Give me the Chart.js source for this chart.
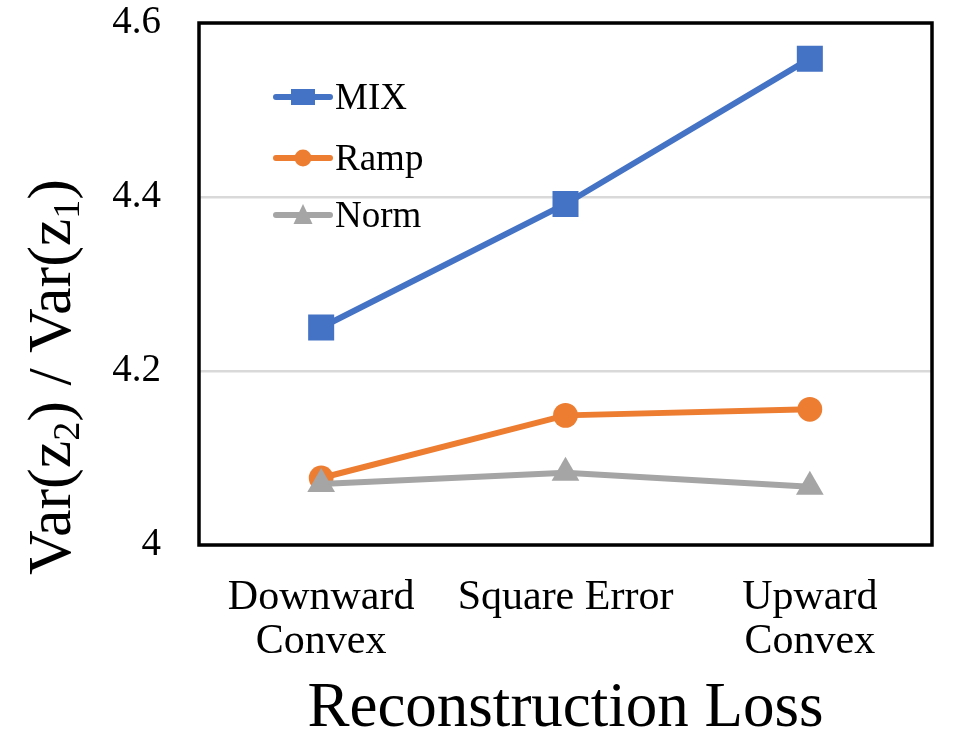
<!DOCTYPE html>
<html>
<head>
<meta charset="utf-8">
<script src="https://cdn.jsdelivr.net/npm/chart.js@4.4.1/dist/chart.umd.min.js"></script>
<style>
  html, body { margin: 0; padding: 0; background: #fff; }
  #chart { display: block; }
</style>
</head>
<body>
<canvas id="chart" width="962" height="747"></canvas>
<script>
// Data
const categories = [['Downward', 'Convex'], 'Square Error', ['Upward', 'Convex']];
const mixValues = [4.25, 4.392, 4.559];
const rampValues = [4.077, 4.149, 4.156];
const normValues = [4.070, 4.083, 4.067];
const yTicks = [4, 4.2, 4.4, 4.6];

const SERIF = '"Liberation Serif", "Times New Roman", serif';
const BLUE = '#4472C4';
const ORANGE = '#ED7D31';
const GRAY = '#A5A5A5';

// Black frame round the plot area
const frame = {
  id: 'frame',
  beforeDatasetsDraw(chart) {
    const { ctx, chartArea: a } = chart;
    ctx.save();
    ctx.strokeStyle = '#000';
    ctx.lineWidth = 3.5;
    ctx.strokeRect(a.left, a.top, a.right - a.left, a.bottom - a.top);
    ctx.restore();
  }
};

// Legend inside the plot, top left
const insideLegend = {
  id: 'insideLegend',
  afterDraw(chart) {
    const { ctx, chartArea: a } = chart;
    const rows = [74, 135, 192];
    ctx.save();
    chart.data.datasets.forEach((ds, i) => {
      const y = a.top + rows[i];
      const x0 = a.left + 77, x1 = a.left + 131, xm = (x0 + x1) / 2;
      ctx.strokeStyle = ds.borderColor;
      ctx.lineWidth = 6;
      ctx.lineCap = 'round';
      ctx.beginPath();
      ctx.moveTo(x0, y);
      ctx.lineTo(x1, y);
      ctx.stroke();
      ctx.fillStyle = ds.borderColor;
      ctx.beginPath();
      if (ds.pointStyle === 'rect') {
        ctx.rect(xm - 12, y - 8, 24, 16);
      } else if (ds.pointStyle === 'circle') {
        ctx.arc(xm, y, 8.5, 0, Math.PI * 2);
      } else {
        ctx.moveTo(xm, y - 11);
        ctx.lineTo(xm - 9.5, y + 9);
        ctx.lineTo(xm + 9.5, y + 9);
        ctx.closePath();
      }
      ctx.fill();
      ctx.fillStyle = '#000';
      ctx.font = '37px ' + SERIF;
      ctx.textBaseline = 'alphabetic';
      ctx.textAlign = 'left';
      ctx.fillText(ds.label, x1 + 5, y + 11.5);
    });
    ctx.restore();
  }
};

// Y axis title with real subscripts: Var(z2) / Var(z1)
const yTitle = {
  id: 'yTitle',
  afterDraw(chart) {
    const { ctx } = chart;
    const size = 62, sub = 38;
    const parts = [
      ['Var(z', size, 0], ['2', sub, 9], [') / Var(z', size, 0], ['1', sub, 9], [')', size, 0]
    ];
    ctx.save();
    let total = 0;
    parts.forEach(p => { ctx.font = p[1] + 'px ' + SERIF; total += ctx.measureText(p[0]).width; });
    ctx.translate(70, 377);
    ctx.rotate(-Math.PI / 2);
    ctx.fillStyle = '#000';
    ctx.textBaseline = 'alphabetic';
    ctx.textAlign = 'left';
    let x = -total / 2;
    parts.forEach(p => {
      ctx.font = p[1] + 'px ' + SERIF;
      ctx.fillText(p[0], x, p[2]);
      x += ctx.measureText(p[0]).width;
    });
    ctx.restore();
  }
};

function makeSet(label, values, color, style, radius, order) {
  return {
    label: label,
    data: values,
    order: order,
    borderColor: color,
    backgroundColor: color,
    borderWidth: 6,
    pointStyle: style,
    pointRadius: radius,
    pointHoverRadius: radius,
    pointBorderWidth: 0,
    pointBackgroundColor: color,
    tension: 0,
    fill: false
  };
}

new Chart(document.getElementById('chart'), {
  type: 'line',
  data: {
    labels: categories,
    datasets: [
      makeSet('MIX', mixValues, BLUE, 'rect', 18.4, 2),
      makeSet('Ramp', rampValues, ORANGE, 'circle', 12.4, 1),
      makeSet('Norm', normValues, GRAY, 'triangle', 16, 0)
    ]
  },
  options: {
    responsive: false,
    animation: false,
    layout: { padding: { left: 0, top: 23, right: 30, bottom: 0 } },
    plugins: {
      legend: { display: false },
      tooltip: { enabled: false }
    },
    scales: {
      x: {
        offset: true,
        grid: { display: false, drawTicks: false },
        border: { display: false },
        ticks: {
          color: '#000',
          padding: 30,
          maxRotation: 0,
          autoSkip: false,
          font: { family: SERIF, size: 42, lineHeight: 1.07 }
        },
        title: {
          display: true,
          text: 'Reconstruction Loss',
          color: '#000',
          padding: { top: 0, bottom: 6 },
          font: { family: SERIF, size: 63, lineHeight: 1.0 }
        },
        afterFit(scale) {
          scale.height = 202;
          scale.paddingLeft = 0;
          scale.paddingRight = 0;
        }
      },
      y: {
        min: 4,
        max: 4.6,
        grid: { color: '#D9D9D9', lineWidth: 2.5, drawTicks: false },
        border: { display: false },
        afterBuildTicks(scale) { scale.ticks = yTicks.map(v => ({ value: v })); },
        ticks: {
          color: '#000',
          padding: 38,
          font: { family: SERIF, size: 39, lineHeight: 1.0 },
          callback: v => String(Math.round(v * 10) / 10)
        },
        afterFit(scale) {
          scale.width = 199;
          scale.paddingTop = 0;
          scale.paddingBottom = 0;
        }
      }
    }
  },
  plugins: [frame, insideLegend, yTitle]
});
</script>
</body>
</html>
